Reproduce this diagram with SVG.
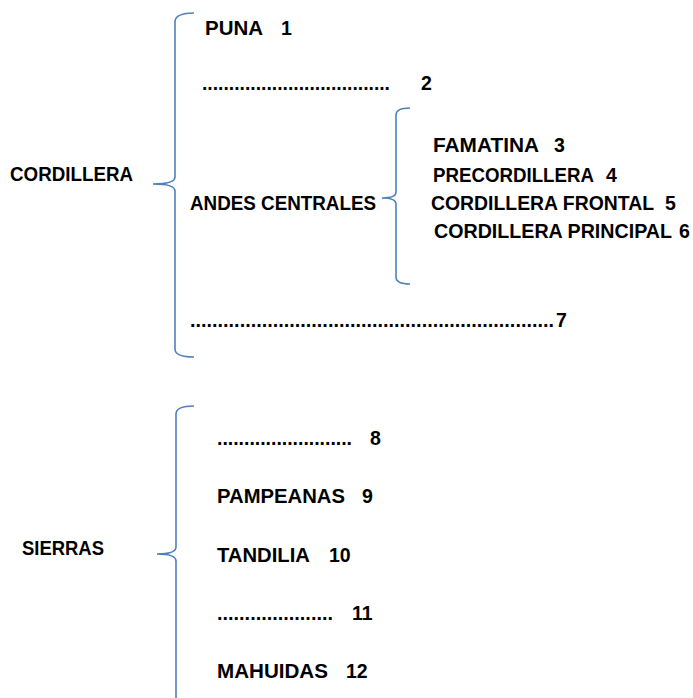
<svg xmlns="http://www.w3.org/2000/svg" width="693" height="698" viewBox="0 0 693 698">
<style>
text{font-family:"Liberation Sans",Arial,sans-serif;font-weight:bold;font-size:19.5px;fill:#000}
.br{fill:none;stroke:#4f81bd;stroke-width:1.6}
</style>
<rect width="693" height="698" fill="#fff"/>
<g id="connectors">
<path class="br" d="M194,13 Q175,13 175,22 L175,177 Q175,184 153,184 Q175,184 175,191 L175,349 Q175,357 194,357"/>
<path class="br" d="M410,108 Q396,108 396,115 L396,192 Q396,198 382,198 Q396,198 396,204 L396,277 Q396,284 410,284"/>
<path class="br" d="M194,406 Q176,406 176,414 L176,547 Q176,554 157,554 Q176,554 176,561 L176,700"/>
</g>
<g id="cordillera"><text x="10" y="181" textLength="123" lengthAdjust="spacingAndGlyphs">CORDILLERA</text></g>
<g id="puna"><text x="205" y="35"><tspan textLength="58" lengthAdjust="spacingAndGlyphs">PUNA</tspan><tspan x="281">1</tspan></text></g>
<g id="n2"><text x="202" y="90"><tspan textLength="188" lengthAdjust="spacingAndGlyphs">...................................</tspan><tspan x="421">2</tspan></text></g>
<g id="andes"><text x="190" y="210" textLength="186" lengthAdjust="spacingAndGlyphs">ANDES CENTRALES</text></g>
<g id="famatina"><text x="433" y="152"><tspan textLength="106" lengthAdjust="spacingAndGlyphs">FAMATINA</tspan><tspan x="554">3</tspan></text></g>
<g id="precordillera"><text x="433" y="182"><tspan textLength="161" lengthAdjust="spacingAndGlyphs">PRECORDILLERA</tspan><tspan x="606">4</tspan></text></g>
<g id="frontal"><text x="431" y="210"><tspan textLength="223" lengthAdjust="spacingAndGlyphs">CORDILLERA FRONTAL</tspan><tspan x="665">5</tspan></text></g>
<g id="principal"><text x="434" y="238"><tspan textLength="238" lengthAdjust="spacingAndGlyphs">CORDILLERA PRINCIPAL</tspan><tspan x="679">6</tspan></text></g>
<g id="n7"><text x="190" y="327"><tspan textLength="364" lengthAdjust="spacingAndGlyphs">..................................................................</tspan><tspan x="556">7</tspan></text></g>
<g id="sierras"><text x="22" y="555" textLength="82" lengthAdjust="spacingAndGlyphs">SIERRAS</text></g>
<g id="n8"><text x="217" y="445"><tspan textLength="135" lengthAdjust="spacingAndGlyphs">.........................</tspan><tspan x="370">8</tspan></text></g>
<g id="pampeanas"><text x="217" y="503"><tspan textLength="128" lengthAdjust="spacingAndGlyphs">PAMPEANAS</tspan><tspan x="362">9</tspan></text></g>
<g id="tandilia"><text x="217" y="562"><tspan textLength="93" lengthAdjust="spacingAndGlyphs">TANDILIA</tspan><tspan x="329">10</tspan></text></g>
<g id="n11"><text x="217" y="620"><tspan textLength="116" lengthAdjust="spacingAndGlyphs">.....................</tspan><tspan x="352">11</tspan></text></g>
<g id="mahuidas"><text x="217" y="678"><tspan textLength="111" lengthAdjust="spacingAndGlyphs">MAHUIDAS</tspan><tspan x="346">12</tspan></text></g>
</svg>
